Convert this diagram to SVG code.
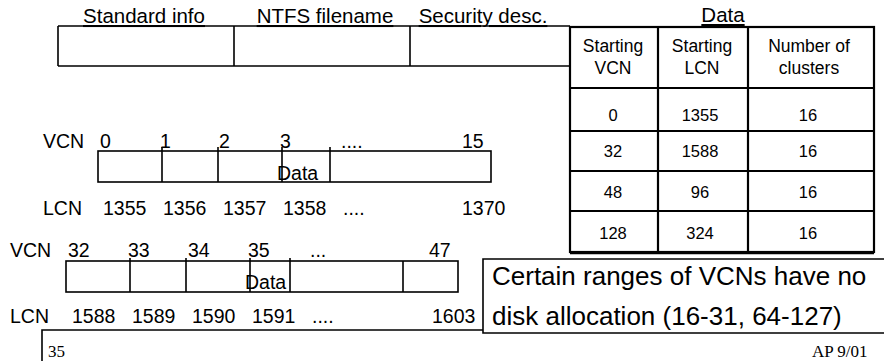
<svg xmlns="http://www.w3.org/2000/svg" width="884" height="361" viewBox="0 0 884 361">
<style>
.t{font-family:"Liberation Sans",Arial,sans-serif;fill:#000}
.hd{font-size:20.5px;text-decoration:underline}
.lb{font-size:19.5px}
.th{font-size:17.5px;text-anchor:middle}
.td{font-size:16.5px;text-anchor:middle}
.co{font-size:26px}
.ft{font-family:"Liberation Serif","Times New Roman",serif;font-size:17px;fill:#000}
.ln{stroke:#000;stroke-width:1.6;fill:none}
.tb{stroke:#000;stroke-width:2.2;fill:none}
</style>
<rect width="884" height="361" fill="#fff"/>

<g id="record">
<path class="ln" d="M58,26H570M58,66H570M58,26V66M234,26V66M410,26V66"/>
<text class="t hd" x="144" y="23" text-anchor="middle">Standard info</text>
<text class="t hd" x="325" y="23" text-anchor="middle">NTFS filename</text>
<text class="t hd" x="483" y="23" text-anchor="middle">Security desc.</text>
<text class="t hd" x="723" y="22" text-anchor="middle">Data</text>
</g>

<g id="runs-table">
<rect class="tb" x="570" y="27" width="304" height="225"/>
<path class="tb" d="M570,88H874M570,131H874M570,171H874M570,211H874M658,27V252M748,27V252"/>
<path stroke="#000" stroke-width="1.5" d="M570,253.5H874"/>
<text class="t th" x="613" y="52">Starting</text>
<text class="t th" x="613" y="74">VCN</text>
<text class="t th" x="702" y="52">Starting</text>
<text class="t th" x="702" y="74">LCN</text>
<text class="t th" x="809" y="52">Number of</text>
<text class="t th" x="809" y="74">clusters</text>
<text class="t td" x="613" y="121">0</text>
<text class="t td" x="700" y="121">1355</text>
<text class="t td" x="808" y="121">16</text>
<text class="t td" x="613" y="157">32</text>
<text class="t td" x="700" y="157">1588</text>
<text class="t td" x="808" y="157">16</text>
<text class="t td" x="613" y="198">48</text>
<text class="t td" x="700" y="198">96</text>
<text class="t td" x="808" y="198">16</text>
<text class="t td" x="613" y="239">128</text>
<text class="t td" x="700" y="239">324</text>
<text class="t td" x="808" y="239">16</text>
</g>

<g id="run1">
<rect class="ln" x="98" y="151" width="393" height="31"/>
<path class="ln" d="M162,147V182M218,147V182M282,147V182M330,147V182"/>
<text class="t lb" x="43" y="148">VCN</text>
<text class="t lb" x="100" y="148">0</text>
<text class="t lb" x="160" y="148">1</text>
<text class="t lb" x="219" y="148">2</text>
<text class="t lb" x="280" y="148">3</text>
<text class="t lb" x="341" y="148">....</text>
<text class="t lb" x="462" y="148">15</text>
<text class="t lb" x="277" y="180">Data</text>
<text class="t lb" x="43" y="215">LCN</text>
<text class="t lb" x="103" y="215">1355</text>
<text class="t lb" x="163" y="215">1356</text>
<text class="t lb" x="223" y="215">1357</text>
<text class="t lb" x="283" y="215">1358</text>
<text class="t lb" x="343" y="215">....</text>
<text class="t lb" x="462" y="215">1370</text>
</g>

<g id="run2">
<rect class="ln" x="66" y="261" width="392" height="31"/>
<path class="ln" d="M130,258V292M186,258V292M250,258V292M290,258V292M403,261V292"/>
<text class="t lb" x="10" y="257">VCN</text>
<text class="t lb" x="68" y="257">32</text>
<text class="t lb" x="128" y="257">33</text>
<text class="t lb" x="188" y="257">34</text>
<text class="t lb" x="248" y="257">35</text>
<text class="t lb" x="310" y="257">...</text>
<text class="t lb" x="429" y="257">47</text>
<text class="t lb" x="245" y="289">Data</text>
<text class="t lb" x="10" y="323">LCN</text>
<text class="t lb" x="72" y="323">1588</text>
<text class="t lb" x="132" y="323">1589</text>
<text class="t lb" x="192" y="323">1590</text>
<text class="t lb" x="252" y="323">1591</text>
<text class="t lb" x="312" y="323">....</text>
<text class="t lb" x="432" y="323">1603</text>
</g>

<g id="callout">
<path class="ln" d="M884,259H483V333H884"/>
<text class="t co" x="492" y="285">Certain ranges of VCNs have no</text>
<text class="t co" x="492" y="325">disk allocation (16-31, 64-127)</text>
</g>

<g id="frame">
<path class="ln" d="M42,361V330H483"/>
<text class="ft" x="48" y="357">35</text>
<text class="ft" x="812" y="357">AP 9/01</text>
</g>
</svg>
